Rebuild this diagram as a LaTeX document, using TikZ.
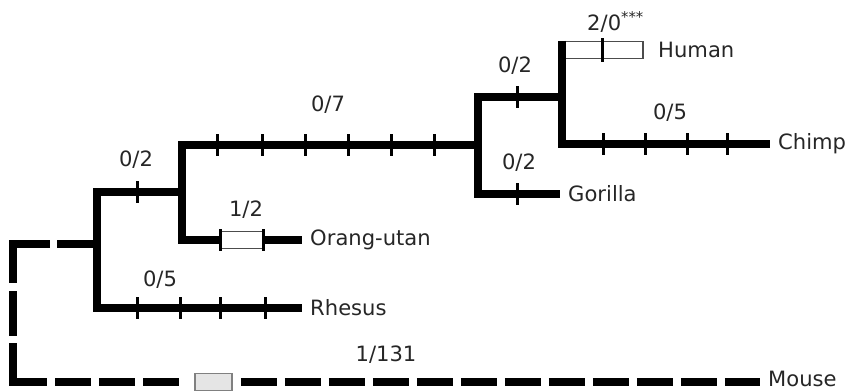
\documentclass[tikz,border=0pt]{standalone}
\usepackage{fontspec}
\setmainfont{DejaVu Sans}

\begin{document}
\begin{tikzpicture}[x=0.03cm, y=-0.03cm, line join=miter,
    branch/.style={line width=0.24cm},
    dashbranch/.style={line width=0.24cm, dash pattern=on 1.08cm off 0.24cm},
    tickmark/.style={line width=0.09cm},
    taxon/.style={anchor=west, inner xsep=0.24cm, inner ysep=0pt, font=\fontsize{18}{20}\selectfont, text=black!85},
    count/.style={inner sep=0pt, font=\fontsize{18}{20}\selectfont, text=black!85},
    openbox/.style={draw=black!70, line width=0.045cm, inner sep=0pt, minimum height=0.5cm}]

  \useasboundingbox (0,0) rectangle (858,391);

  % --- innere Knoten ---
  \coordinate (root) at (13,314);
  \coordinate (prim) at (97,244);
  \coordinate (ape) at (182,192);
  \coordinate (hg) at (478,145);
  \coordinate (hc) at (562,97);

  % --- Boxen auf den Aesten ---
  \node[openbox, minimum width=2.4cm, anchor=west] (hbox) at (562,50) {};
  \node[openbox, minimum width=1.29cm, fill=white] (obox) at (241.5,240) {};
  \node[openbox, minimum width=1.11cm, fill=black!10, draw=black!50] (mbox) at (213.5,382) {};

  % --- Taxa ---
  \node[taxon] (human) at (650,50) {Human};
  \node[taxon] (chimp) at (770,144) {Chimp};
  \node[taxon] (gorilla) at (560,194) {Gorilla};
  \node[taxon] (orang) at (302,240) {Orang-utan};
  \node[taxon] (rhesus) at (302,308) {Rhesus};
  \node[taxon] (mouse) at (760,379) {Mouse};

  % --- Aeste ---
  \draw[branch] (hbox.north west) -- (hc |- chimp) -- (chimp.west);
  \draw[branch] (hc) -- (hg |- hc) -- (hg |- gorilla) -- (gorilla.west);
  \draw[branch] (hg) -- (ape |- hg) -- (ape |- obox) -- (obox.west);
  \draw[branch] (obox.east) -- (orang.west);
  \draw[branch] (ape) -- (prim |- ape) -- (prim |- rhesus) -- (rhesus.west);

  % --- Maus (gestrichelt) ---
  \draw[branch, dash pattern=on 1.2cm off 0.21cm on 2.28cm off 0.24cm on 1.35cm off 0.21cm on 1.8cm off 0.24cm]
    (prim) -- (root |- prim) -- (root |- mbox) -- ++(4,0);
  \draw[dashbranch, dash phase=0.06cm, shorten >=0.27cm] (root |- mbox) -- (mbox.west);
  \draw[dashbranch, dash phase=1.08cm] (mbox.east) -- (mouse.west |- mbox);

  % --- Striche (Substitutionen) ---
  \draw[tickmark] (137,181) -- (137,203);
  \foreach \t in {137,180,220,265} \draw[tickmark] (\t,297) -- (\t,319);
  \foreach \t in {217,262,305,348,391,434} \draw[tickmark] (\t,134) -- (\t,156);
  \foreach \t in {220,263} \draw[tickmark] (\t,229) -- (\t,251);
  \draw[tickmark] (517,86) -- (517,108);
  \draw[tickmark] (517,183) -- (517,205);
  \draw[tickmark] (602,38) -- (602,62);
  \foreach \t in {603,645,687,727} \draw[tickmark] (\t,133) -- (\t,155);

  % --- Zahlen ---
  \node[count] (cprim) at (136,160) {0/2};
  \node[count] (crhesus) at (160,280) {0/5};
  \node[count] (corang) at (246,210) {1/2};
  \node[count] (cape) at (328,105) {0/7};
  \node[count] (chc) at (515,66) {0/2};
  \node[count] (cgorilla) at (519,163) {0/2};
  \node[count] (cchimp) at (670,113) {0/5};
  \node[count, anchor=west] (chuman) at (587,22) {2/0\textsuperscript{***}};
  \node[count] (cmouse) at (386,355) {1/131};

\end{tikzpicture}
\end{document}
